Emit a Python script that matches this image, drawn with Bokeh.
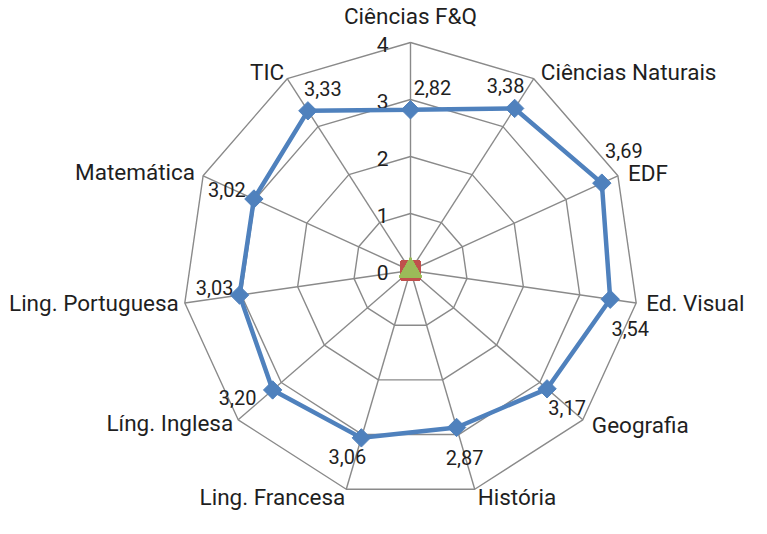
import numpy as np
from bokeh.plotting import figure
from bokeh.models import Range1d, ColumnDataSource
from bokeh.core.properties import value
from bokeh.embed import file_html
from bokeh.resources import INLINE

# ---- data ----
categories = ["Ciências F&Q", "Ciências Naturais", "EDF", "Ed. Visual", "Geografia",
              "História", "Ling. Francesa", "Líng. Inglesa", "Ling. Portuguesa",
              "Matemática", "TIC"]
series1 = [2.82, 3.38, 3.69, 3.54, 3.17, 2.87, 3.06, 3.20, 3.03, 3.02, 3.33]
series2 = [0, 0, 0, 0, 0, 0, 0, 0, 0, 0, 0]
series3 = [0, 0, 0, 0, 0, 0, 0, 0, 0, 0, 0]
ticks = [0, 1, 2, 3, 4]

# ---- styles ----
FONT = "Roboto"
TXT = "#1f1f1f"
GRID = "#8a8a8a"
BLUE = "#4F81BD"
RED = "#C0504D"
GREEN = "#9BBB59"
S = 57.0            # pixels per unit
W, H = 751, 518
CX, CY = 410, 270   # center in figure pixels

n = len(categories)
theta = 2 * np.pi * np.arange(n) / n
sx, cy = np.sin(theta), np.cos(theta)


def pts(vals):
    v = np.asarray(vals, dtype=float)
    return v * sx, v * cy


p = figure(width=W, height=H, output_backend="svg", toolbar_location=None,
           x_axis_type=None, y_axis_type=None, min_border=0,
           x_range=Range1d(-CX / S, (W - CX) / S),
           y_range=Range1d(-(H - CY) / S, CY / S))
p.grid.visible = False
p.outline_line_color = None
p.background_fill_color = "white"
p.border_fill_color = "white"

rmax = max(ticks)
# rings
for t in ticks[1:]:
    xs, ys = pts([t] * n)
    p.line(list(xs) + [xs[0]], list(ys) + [ys[0]], line_color=GRID, line_width=1.4)
# spokes
xo, yo = pts([rmax] * n)
p.segment(x0=[0] * n, y0=[0] * n, x1=list(xo), y1=list(yo), line_color=GRID, line_width=1.4)

# tick labels
p.text(x=[0] * len(ticks), y=ticks, text=[str(t) for t in ticks],
       x_offset=-22, y_offset=2, text_align="right", text_baseline="middle",
       text_font=value(FONT), text_font_size="21px", text_color=TXT)

# category labels
cat_align = ["center", "left", "left", "left", "left", "left", "right", "right", "right", "right", "right"]
cat_dx = [0, 7, 10, 10, 9, 3, -1, -5, -6, -8, -3]
cat_dy = [-27, -7, -3, 0, 5, 8, 8, 3, 0, -4, -7]
src_cat = ColumnDataSource(dict(x=xo, y=yo, t=categories, a=cat_align, dx=cat_dx, dy=cat_dy))
p.text(x="x", y="y", text="t", text_align="a", x_offset="dx", y_offset="dy",
       text_baseline="middle", text_font=value(FONT), text_font_size="22.5px",
       text_color=TXT, source=src_cat)

# series 1
x1, y1 = pts(series1)
p.line(list(x1) + [x1[0]], list(y1) + [y1[0]], line_color=BLUE, line_width=4.5,
       line_join="round")
p.scatter(x1, y1, marker="square", angle=np.pi / 4, size=13,
          fill_color=BLUE, line_color=BLUE)

# series 2 and 3
x2, y2 = pts(series2)
p.scatter(x2, y2, marker="square", size=19, fill_color=RED, line_color=RED)
x3, y3 = pts(series3)
p.scatter(x3, y3, marker="triangle", size=22, fill_color=GREEN, line_color=GREEN)

# data labels
lab_dx = [22, -9, 22, 20, 20, 8, -14, -35, -25, -27, 15]
lab_dy = [-22, -23, -33, 29, 19, 30, 19, 8, -8, -9, -22]
src_lab = ColumnDataSource(dict(x=x1, y=y1, t=[f"{v:.2f}".replace(".", ",") for v in series1],
                                dx=lab_dx, dy=lab_dy))
p.text(x="x", y="y", text="t", x_offset="dx", y_offset="dy",
       text_align="center", text_baseline="middle", text_font=value(FONT),
       text_font_size="20px", text_color=TXT, source=src_lab)

open("out.html", "w").write(file_html(p, INLINE))
